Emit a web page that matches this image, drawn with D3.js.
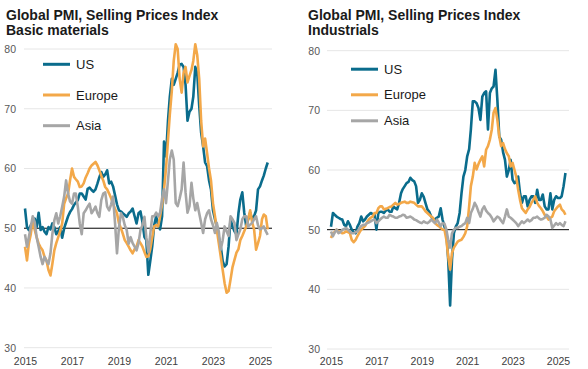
<!DOCTYPE html>
<html>
<head>
<meta charset="utf-8">
<script src="https://cdn.jsdelivr.net/npm/d3@7"></script>
<style>
html,body{margin:0;padding:0;background:#fff;}
svg{display:block;font-family:"Liberation Sans",Arial,sans-serif;}
</style>
</head>
<body>
<svg id="chart" width="588" height="369"></svg>
<script>
// ---- Data (monthly, Jan 2015 – May 2025) ----
const startYear = 2015;
const yearTicks = [2015, 2017, 2019, 2021, 2023, 2025];
const valueTicks = [30, 40, 50, 60, 70, 80];
const seriesNames = ["US", "Europe", "Asia"];
const titleLine1 = "Global PMI, Selling Prices Index";
const panelTitles = ["Basic materials", "Industrials"];

const basicUS = [
  53.3, 50.2, 49.7, 50.5, 51.0, 51.6, 50.2, 52.6, 49.7, 50.2, 49.4, 49.0,
  50.2, 49.8, 50.8, 50.2, 49.0, 49.5, 50.2, 48.4, 50.0, 51.0, 52.0, 52.7,
  53.2, 53.9, 54.3, 54.7, 55.8, 55.8, 55.3, 54.8, 56.6, 56.8, 56.4, 56.1,
  56.5, 57.5, 58.5, 59.4, 58.6, 59.0, 59.7, 57.5, 57.8, 57.0, 55.5, 54.0,
  53.0, 52.8, 52.5, 52.2, 51.9, 52.5, 52.8, 53.3, 52.0, 50.8, 52.5, 52.8,
  51.0, 48.5, 48.0, 42.2, 44.5, 47.0, 50.5, 52.0, 50.5, 49.8, 52.0, 64.5,
  62.0, 68.0, 72.0, 75.0, 74.0, 75.0, 76.0, 77.4, 77.5, 77.0, 74.0, 68.0,
  69.5, 70.0, 72.0, 77.0, 76.0, 70.5, 66.0, 63.7, 61.0, 60.4, 58.0, 56.5,
  53.0, 51.5, 50.3, 48.5, 47.0, 44.5, 43.6, 44.0, 47.0, 51.5, 50.3, 49.5,
  49.0, 52.5, 54.8, 56.0, 52.6, 50.3, 51.5, 52.6, 51.5, 52.0, 53.0, 56.5,
  57.0, 58.0, 58.8, 60.0, 61.0
];
const basicEurope = [
  46.9, 44.6, 47.4, 49.0, 51.3, 49.7, 48.5, 47.4, 46.8, 46.3, 45.2, 44.6,
  43.0, 42.1, 44.0, 46.3, 47.5, 48.5, 49.5, 50.8, 54.1, 55.0, 55.8, 58.0,
  60.0, 58.6, 58.2, 57.8, 56.9, 57.0, 57.5, 58.5, 59.2, 60.0, 60.5, 60.8,
  61.1, 60.5, 59.7, 58.8, 58.0, 56.9, 56.5, 55.8, 55.0, 54.1, 53.2, 52.5,
  50.8, 50.0, 49.1, 48.0, 47.5, 46.9, 46.3, 45.8, 46.5, 46.9, 48.0, 47.5,
  46.9, 46.0, 45.2, 45.3, 46.5, 48.5, 50.3, 50.5, 50.3, 52.0, 54.0, 56.5,
  60.0, 64.8, 69.0, 73.0, 78.0, 80.8, 80.0, 75.0, 72.7, 76.0, 77.0, 74.4,
  75.5, 76.5, 78.0, 80.8, 79.0, 75.0, 68.0, 63.7, 65.0, 62.6, 60.0, 58.0,
  54.2, 52.0, 49.8, 47.5, 45.3, 43.0, 40.8, 39.2, 39.5, 41.4, 43.5, 44.7,
  45.9, 46.5, 48.0, 48.7, 49.5, 50.3, 51.5, 53.0, 51.0, 49.8, 46.4, 47.5,
  48.7, 51.5, 52.3, 52.0, 49.8
];
const basicAsia = [
  49.0, 46.9, 48.5, 50.2, 52.0, 51.0, 48.5, 46.9, 45.2, 44.0, 45.2, 44.5,
  44.0, 45.8, 49.0, 51.3, 52.5, 50.8, 52.0, 53.6, 55.3, 58.0, 55.8, 54.5,
  54.1, 55.8, 55.8, 53.6, 50.8, 49.0, 52.5, 53.0, 53.6, 54.1, 52.5, 53.0,
  53.6, 52.5, 51.9, 54.7, 55.8, 56.0, 53.6, 53.0, 54.0, 55.3, 50.8, 45.8,
  50.2, 52.5, 51.9, 50.5, 49.7, 47.4, 48.5, 47.5, 46.9, 46.3, 47.5, 49.7,
  50.5, 51.9, 48.5, 46.0, 49.0, 52.0, 52.0, 52.6, 52.0, 52.6, 55.0, 56.5,
  54.2, 58.0, 61.5, 63.0, 61.5, 54.2, 53.7, 55.0, 56.5, 61.0, 56.0, 52.6,
  53.7, 57.6, 55.0, 53.0, 54.2, 52.5, 50.9, 49.2, 51.5, 52.5, 53.0, 51.5,
  50.5, 49.2, 50.9, 49.5, 46.4, 48.0, 50.3, 49.5, 48.7, 52.0, 51.5, 50.9,
  48.0, 49.0, 49.8, 51.5, 52.0, 52.0, 50.3, 50.6, 50.9, 51.5, 52.0, 50.5,
  49.8, 50.0, 50.3, 49.5, 48.9
];
const indUS = [
  50.5, 52.8, 52.5, 52.2, 52.0, 51.8, 51.7, 50.8, 50.6, 51.4, 50.8, 50.0,
  49.6, 49.4, 50.5, 51.1, 52.2, 51.4, 51.7, 52.2, 52.5, 52.8, 52.6, 52.5,
  50.0, 52.8, 53.0, 53.0, 52.8, 53.2, 53.4, 53.0, 53.0, 53.9, 53.6, 53.4,
  54.5, 56.1, 56.8, 57.3, 57.8, 58.0, 58.7, 58.3, 58.1, 57.3, 54.5, 55.0,
  56.1, 55.5, 54.5, 53.4, 53.0, 52.2, 51.8, 51.7, 52.0, 52.2, 53.6, 51.7,
  50.5, 49.4, 45.0, 37.3, 45.0, 49.4, 50.5, 51.1, 52.8, 56.1, 58.9, 60.0,
  62.3, 63.5, 66.8, 71.5, 71.5, 71.2, 70.4, 68.4, 72.3, 72.9, 73.2, 66.8,
  72.9, 73.7, 74.0, 76.8, 71.8, 65.6, 65.1, 63.0, 61.7, 58.9, 60.0, 61.7,
  58.4, 57.8, 58.0, 58.9, 56.1, 54.5, 55.6, 55.6, 53.9, 55.0, 55.6, 55.6,
  54.5, 56.7, 55.0, 55.0, 55.9, 53.9, 53.4, 53.4, 56.1, 53.4, 55.0, 55.6,
  55.3, 55.3, 55.6, 57.3, 59.5
];
const indEurope = [
  48.6, 49.4, 49.6, 50.0, 49.7, 49.7, 49.4, 49.5, 49.7, 49.6, 49.4, 48.3,
  47.9, 48.3, 48.9, 49.5, 50.0, 50.3, 50.6, 51.2, 51.7, 52.0, 52.2, 52.8,
  52.8, 53.6, 53.9, 53.9, 53.4, 53.5, 53.6, 53.8, 53.9, 54.2, 54.5, 54.2,
  54.3, 54.5, 54.6, 54.7, 54.5, 54.5, 54.7, 54.6, 54.5, 54.2, 53.9, 53.9,
  53.9, 53.5, 53.1, 52.8, 52.5, 52.2, 52.0, 51.1, 50.8, 50.6, 50.3, 50.0,
  50.0, 48.3, 45.5, 43.3, 46.1, 47.0, 47.5, 48.0, 48.2, 48.3, 48.8, 49.4,
  50.6, 53.9, 57.3, 58.9, 61.2, 60.1, 61.0, 61.7, 62.3, 60.6, 63.4, 64.0,
  65.1, 66.8, 69.6, 70.4, 68.4, 65.6, 64.0, 64.5, 63.5, 62.8, 62.3, 60.6,
  61.2, 60.0, 58.9, 56.7, 55.0, 53.6, 53.2, 52.8, 53.4, 53.8, 54.5, 55.0,
  55.6, 54.5, 54.0, 53.6, 53.1, 52.5, 52.2, 51.7, 52.0, 52.2, 53.1, 53.5,
  53.9, 54.2, 53.4, 53.1, 52.5
];
const indAsia = [
  49.7, 48.9, 49.5, 50.0, 49.4, 49.6, 50.0, 50.1, 50.3, 50.0, 49.7, 49.4,
  49.4, 49.6, 49.7, 50.2, 50.6, 50.8, 50.8, 51.1, 51.2, 51.4, 51.6, 51.7,
  51.1, 51.4, 51.7, 52.0, 52.2, 52.0, 52.0, 52.5, 52.3, 52.2, 52.0, 52.0,
  52.2, 52.3, 52.5, 52.4, 52.0, 52.1, 52.2, 52.0, 51.7, 51.6, 51.4, 51.2,
  51.1, 51.4, 51.2, 51.1, 51.3, 51.7, 51.4, 51.1, 51.7, 51.2, 50.6, 51.1,
  51.0, 50.0, 48.3, 47.0, 49.4, 50.0, 50.3, 50.3, 50.5, 50.6, 50.9, 51.1,
  52.0, 51.1, 52.8, 53.5, 54.5, 53.9, 53.0, 52.2, 53.4, 53.9, 53.2, 52.8,
  52.5, 52.0, 51.4, 51.8, 52.2, 52.0, 51.5, 51.1, 52.2, 53.4, 52.2, 52.0,
  51.7, 51.4, 51.1, 50.6, 51.0, 51.4, 51.1, 51.4, 51.7, 51.4, 51.6, 52.0,
  52.0, 52.2, 51.9, 51.7, 51.8, 52.0, 52.5, 52.2, 51.7, 50.3, 50.7, 51.1,
  50.8, 51.1, 50.8, 50.6, 51.4
];

// ---- Styling / layout ----
const colors = { US: "#0a6c8c", Europe: "#f3a849", Asia: "#a6a6a6" };

const panels = [
  {
    title2: panelTitles[0],
    data: { US: basicUS, Europe: basicEurope, Asia: basicAsia },
    titleX: 6,
    xRange: [25, 260], gridX: [24, 272], yRange: [347.7, 49], yLabelX: 16,
    legend: { x1: 43, x2: 70, tx: 76, ys: [64.3, 95, 125.7] }
  },
  {
    title2: panelTitles[1],
    data: { US: indUS, Europe: indEurope, Asia: indAsia },
    titleX: 308,
    xRange: [331, 558], gridX: [327, 569], yRange: [349, 50.7], yLabelX: 320,
    legend: { x1: 351, x2: 378, tx: 384, ys: [69.2, 94.8, 120.8] }
  }
];

const svg = d3.select("#chart");

panels.forEach(p => {
  const g = svg.append("g");
  const n = p.data.US.length;
  const dates = d3.range(n).map(i => new Date(startYear, i, 1));

  const x = d3.scaleTime()
    .domain([new Date(yearTicks[0], 0, 1), new Date(yearTicks[yearTicks.length - 1], 0, 1)])
    .range(p.xRange);
  const y = d3.scaleLinear().domain([30, 80]).range(p.yRange);

  // gridlines
  g.append("g").selectAll("line")
    .data(valueTicks.filter(v => v !== 50))
    .join("line")
    .attr("x1", p.gridX[0]).attr("x2", p.gridX[1])
    .attr("y1", d => y(d)).attr("y2", d => y(d))
    .attr("stroke", "#e6e6e6").attr("stroke-width", 1);

  // 50 reference line
  g.append("line")
    .attr("x1", p.gridX[0]).attr("x2", p.gridX[1])
    .attr("y1", y(50)).attr("y2", y(50))
    .attr("stroke", "#000").attr("stroke-width", 1);

  // y axis
  const yAxis = g.append("g")
    .attr("transform", `translate(${p.yLabelX},0)`)
    .call(d3.axisLeft(y).tickValues(valueTicks).tickSize(0).tickPadding(0).tickFormat(d3.format("d")));
  yAxis.select(".domain").remove();
  yAxis.selectAll("text")
    .attr("font-family", "'Liberation Sans', Arial, sans-serif")
    .attr("font-size", 10.5).attr("fill", "#595959");

  // x axis
  const xAxis = g.append("g")
    .attr("transform", "translate(0,365)")
    .call(d3.axisBottom(x)
      .tickValues(yearTicks.map(yy => new Date(yy, 0, 1)))
      .tickSize(0).tickFormat(d3.timeFormat("%Y")));
  xAxis.select(".domain").remove();
  xAxis.selectAll("text")
    .attr("y", 0).attr("dy", null)
    .attr("font-family", "'Liberation Sans', Arial, sans-serif")
    .attr("font-size", 10.5).attr("fill", "#404040");

  // series lines
  const line = d3.line().x((d, i) => x(dates[i])).y(d => y(d)).curve(d3.curveLinear);
  seriesNames.forEach(name => {
    g.append("path")
      .datum(p.data[name])
      .attr("d", line)
      .attr("fill", "none")
      .attr("stroke", colors[name])
      .attr("stroke-width", 2.6)
      .attr("stroke-linejoin", "round");
  });

  // legend
  seriesNames.forEach((name, k) => {
    const ly = p.legend.ys[k];
    g.append("line")
      .attr("x1", p.legend.x1).attr("x2", p.legend.x2)
      .attr("y1", ly).attr("y2", ly)
      .attr("stroke", colors[name]).attr("stroke-width", 3);
    g.append("text")
      .attr("x", p.legend.tx).attr("y", ly)
      .attr("dy", "0.35em")
      .attr("font-size", 13).attr("fill", "#1a1a1a")
      .text(name);
  });

  // titles
  g.append("text")
    .attr("x", p.titleX).attr("y", 19.5)
    .attr("font-size", 14).attr("font-weight", "bold").attr("fill", "#1a1a1a")
    .text(titleLine1);
  g.append("text")
    .attr("x", p.titleX).attr("y", 34.5)
    .attr("font-size", 14).attr("font-weight", "bold").attr("fill", "#1a1a1a")
    .text(p.title2);
});
</script>
</body>
</html>
